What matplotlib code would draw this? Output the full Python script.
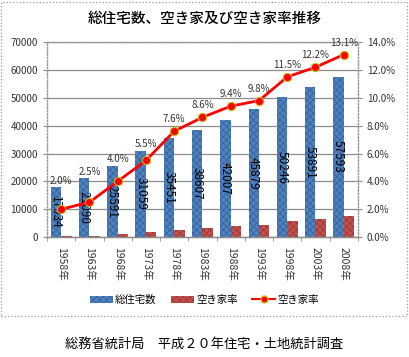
import matplotlib
matplotlib.use("Agg")
import matplotlib.pyplot as plt
import numpy as np
from matplotlib.patches import Rectangle, Patch
from matplotlib.lines import Line2D

plt.rcParams['font.family'] = ['Noto Sans CJK JP', 'DejaVu Sans']
plt.rcParams['hatch.linewidth'] = 0.5

years = ['1958年', '1963年', '1968年', '1973年', '1978年', '1983年',
         '1988年', '1993年', '1998年', '2003年', '2008年']
total_houses = [17934, 21090, 25591, 31059, 35451, 38607, 42007, 45879, 50246, 53891, 57593]
vacant_houses = [360, 522, 1034, 1720, 2679, 3302, 3940, 4476, 5764, 6593, 7568]
vacancy_rate = [2.0, 2.5, 4.0, 5.5, 7.6, 8.6, 9.4, 9.8, 11.5, 12.2, 13.1]

title = '総住宅数、空き家及び空き家率推移'
source = '総務省統計局　平成２０年住宅・土地統計調査'
leg_labels = ['総住宅数', '空き家率', '空き家率']

fig = plt.figure(figsize=(4.09, 3.57), dpi=100)
ax = fig.add_axes([0.115, 0.336, 0.76, 0.546])
ax2 = ax.twinx()

x = np.arange(len(years))
w = 0.37
blue = '#4F81BD'
red = '#C0504D'
blue_h = '#325F9A'
red_h = '#9A3532'
b1 = ax.bar(x - w / 2, total_houses, w, color=blue, edgecolor=blue_h, hatch='xxxxx', linewidth=0, zorder=2)
b2 = ax.bar(x + w / 2, vacant_houses, w, color=red, edgecolor=red_h, hatch='xxxxx', linewidth=0, zorder=2)

for xi, v in zip(x, total_houses):
    ax.text(xi - w / 2, v / 2, str(v), rotation=270, ha='center', va='center',
            fontsize=8.5, color='black', zorder=3)

ax.set_xlim(-0.5, len(years) - 0.5)
ax.set_ylim(0, 70000)
ax.set_yticks(np.arange(0, 70001, 10000))
ax.yaxis.grid(True, color='#8C8C8C', linewidth=0.9)
ax.set_axisbelow(True)
ax.set_xticks(x)
ax.set_xticklabels(years, rotation=270, fontsize=7.5, color='#333333')
ax.set_xticks(np.arange(-0.5, len(years), 1), minor=True)
ax.tick_params(axis='x', which='major', length=0, pad=7)
ax.tick_params(axis='x', which='minor', length=3, color='#8C8C8C')
ax.tick_params(axis='y', labelsize=7, length=3, color='#8C8C8C', labelcolor='#333333')

ax2.plot(x, vacancy_rate, color='#FF0000', linewidth=2, marker='o', markersize=6,
         markerfacecolor='#FF0000', markeredgecolor='#C8C020', markeredgewidth=0.8, zorder=5)
ax2.set_ylim(0, 14)
ax2.set_yticks(np.arange(0, 14.1, 2))
ax2.set_yticklabels([f'{t:.1f}%' for t in np.arange(0, 14.1, 2)])
ax2.tick_params(axis='y', labelsize=7, length=3, color='#8C8C8C', labelcolor='#333333')

for xi, r, tv in zip(x, vacancy_rate, total_houses):
    bar_pct = tv / 70000 * 14
    if bar_pct > r - 0.4:
        ax2.annotate(f'{r:.1f}%', (xi, bar_pct), xytext=(0, 1), textcoords='offset points',
                     ha='center', va='bottom', fontsize=7, color='#333333')
    else:
        ax2.annotate(f'{r:.1f}%', (xi, r), xytext=(0, 5), textcoords='offset points',
                     ha='center', va='bottom', fontsize=7, color='#333333')

for a in (ax, ax2):
    for s in ('left', 'top', 'right'):
        a.spines[s].set_color('#9A9A9A')
        a.spines[s].set_linestyle(':')
        a.spines[s].set_linewidth(0.9)
    a.spines['bottom'].set_color('#8C8C8C')
    a.spines['bottom'].set_linewidth(0.9)

fig.text(0.5, 0.948, title, ha='center', va='center', fontsize=10.5, fontweight='medium')

handles = [Patch(facecolor=blue, edgecolor=blue_h, hatch='xxxxx', linewidth=0),
           Patch(facecolor=red, edgecolor=red_h, hatch='xxxxx', linewidth=0),
           Line2D([0], [0], color='#FF0000', linewidth=1.5, marker='o', markersize=5,
                  markerfacecolor='#FF0000', markeredgecolor='#C8C020')]
fig.legend(handles, leg_labels, loc='center', bbox_to_anchor=(0.5, 0.16), ncol=3,
           frameon=False, fontsize=7.5, handlelength=2.2, handleheight=0.6,
           columnspacing=1.4, handletextpad=0.2)

fig.patches.append(Rectangle((0.003, 0.115), 0.992, 0.88, transform=fig.transFigure,
                             fill=False, edgecolor='#9A9A9A', linestyle=':', linewidth=0.9))

fig.text(0.5, 0.035, source, ha='center', va='center', fontsize=9.5)

fig.savefig('out.png', dpi=100)
